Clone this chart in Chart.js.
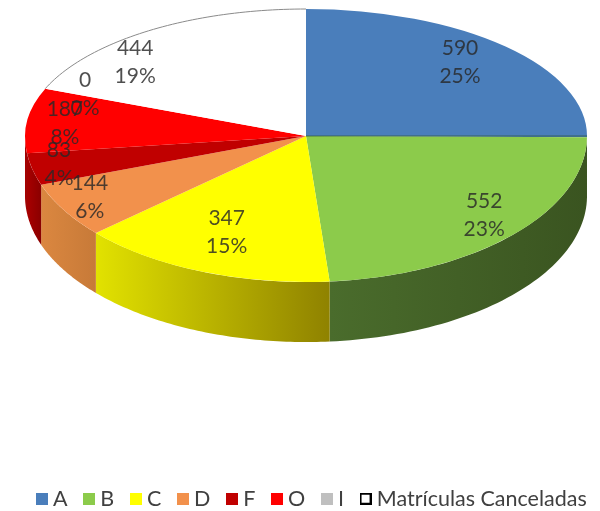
<!DOCTYPE html>
<html>
<head>
<meta charset="utf-8">
<style>html,body{margin:0;padding:0;background:#fff}canvas{display:block;filter:blur(0.6px)}</style>
<script src="https://cdn.jsdelivr.net/npm/chart.js@4"></script>
</head>
<body>
<canvas id="c" width="600" height="511"></canvas>
<script>
const categories = ['A','B','C','D','F','O','I','Matrículas Canceladas'];
const values = [590,552,347,144,83,187,0,444];
const percentLabels = ['25%','23%','15%','6%','4%','8%','0%','19%'];
const faceColors = ['#4A7EBB','#8CCB4B','#FFFF00','#F2914C','#C00000','#FF0000','#BFBFBF','#FFFFFF'];
const wallLight = ['#35567E','#4A6C2C','#E2E200','#DB8740','#A80000','#B00000','#888888','#CCCCCC'];
const wallDark = ['#35567E','#3A5420','#8F8200','#C77A38','#8A0000','#900000','#888888','#CCCCCC'];
const labelReach = [.80,.833,.717,.875,.90,.864,.853,.843];
const labelTurn = [-2,-2.4,1.4,2.1,.8,-.8,.9,-12.1];

const view = {cx:306, cy:136, rx:281, ryTop:127, ryBottom:146, depth:60};

function swatch(fill, stroke){
  const k=document.createElement('canvas'); k.width=12; k.height=12;
  const g=k.getContext('2d');
  g.fillStyle=fill; g.fillRect(0,0,12,12);
  if(stroke){g.strokeStyle=stroke; g.lineWidth=2; g.strokeRect(1,1,10,10);}
  return k;
}

const tilted = {
  id:'tilted',
  afterLayout(chart){
    const l=chart.legend;
    l.top=467; l.bottom=511; l.left+=14; l.right+=14;
  },
  beforeDatasetsDraw(chart){
    const ctx=chart.ctx, arcs=chart.getDatasetMeta(0).data;
    const R=arcs[0].outerRadius, ox=arcs[0].x, oy=arcs[0].y, v=view;
    const px=a=>v.cx+Math.cos(a)*v.rx;
    const py=a=>{const s=Math.sin(a);return v.cy+s*(s<0?v.ryTop:v.ryBottom);};
    arcs.forEach((el,i)=>{
      const p=el.getProps(['startAngle','endAngle']);
      const a0=Math.max(p.startAngle,0), a1=Math.min(p.endAngle,Math.PI);
      if(a1<=a0) return;
      const g=ctx.createLinearGradient(px(a1),0,px(a0),0);
      g.addColorStop(0,wallLight[i]); g.addColorStop(1,wallDark[i]);
      ctx.beginPath();
      const n=60;
      for(let k=0;k<=n;k++){const a=a0+(a1-a0)*k/n; ctx.lineTo(px(a),py(a));}
      for(let k=n;k>=0;k--){const a=a0+(a1-a0)*k/n; ctx.lineTo(px(a),py(a)+v.depth);}
      ctx.closePath(); ctx.fillStyle=g; ctx.fill();
    });
    [[0,v.cy,v.ryTop],[v.cy,511-v.cy,v.ryBottom]].forEach(([y,h,ry])=>{
      ctx.save();
      ctx.beginPath(); ctx.rect(0,y,600,h); ctx.clip();
      ctx.translate(v.cx,v.cy); ctx.scale(v.rx/R,ry/R); ctx.translate(-ox,-oy);
      arcs.forEach(el=>el.draw(ctx));
      ctx.restore();
    });
    const last=arcs[arcs.length-1].getProps(['startAngle','endAngle']);
    ctx.beginPath();
    for(let k=0;k<=60;k++){const a=last.startAngle+(last.endAngle-last.startAngle)*k/60; ctx.lineTo(px(a),py(a));}
    ctx.strokeStyle='#8A8A8A'; ctx.lineWidth=1; ctx.stroke();
    ctx.beginPath(); ctx.moveTo(v.cx,v.cy); ctx.lineTo(v.cx+v.rx,v.cy);
    ctx.strokeStyle='rgba(50,90,60,.75)'; ctx.stroke();
    ctx.font='21px Lato'; ctx.textAlign='center'; ctx.textBaseline='middle';
    ctx.fillStyle='rgba(40,40,40,.82)';
    arcs.forEach((el,i)=>{
      const p=el.getProps(['startAngle','endAngle']);
      const a=(p.startAngle+p.endAngle)/2+labelTurn[i]*Math.PI/180;
      const x=v.cx+Math.cos(a)*v.rx*labelReach[i];
      const s=Math.sin(a), y=v.cy+s*(s<0?v.ryTop:v.ryBottom)*labelReach[i];
      ctx.fillText(String(values[i]),x,y-14);
      ctx.fillText(percentLabels[i],x,y+14);
    });
    return false;
  }
};

new Chart(document.getElementById('c'),{
  type:'pie',
  data:{labels:categories,datasets:[{data:values,backgroundColor:faceColors,borderWidth:0}]},
  options:{
    responsive:false,animation:false,
    plugins:{
      tooltip:{enabled:false},
      legend:{
        position:'bottom',
        labels:{
          font:{family:'Lato',size:21.5},color:'#404040',padding:21,
          usePointStyle:true,pointStyleWidth:1,boxHeight:12,
          generateLabels(chart){
            return categories.map((t,i)=>({
              text:t,index:i,hidden:false,fontColor:'#404040',lineWidth:0,
              fillStyle:faceColors[i],strokeStyle:faceColors[i],
              pointStyle:i===categories.length-1?swatch('#FFFFFF','#000000'):swatch(faceColors[i])
            }));
          }
        }
      }
    }
  },
  plugins:[tilted]
});
</script>
</body>
</html>
